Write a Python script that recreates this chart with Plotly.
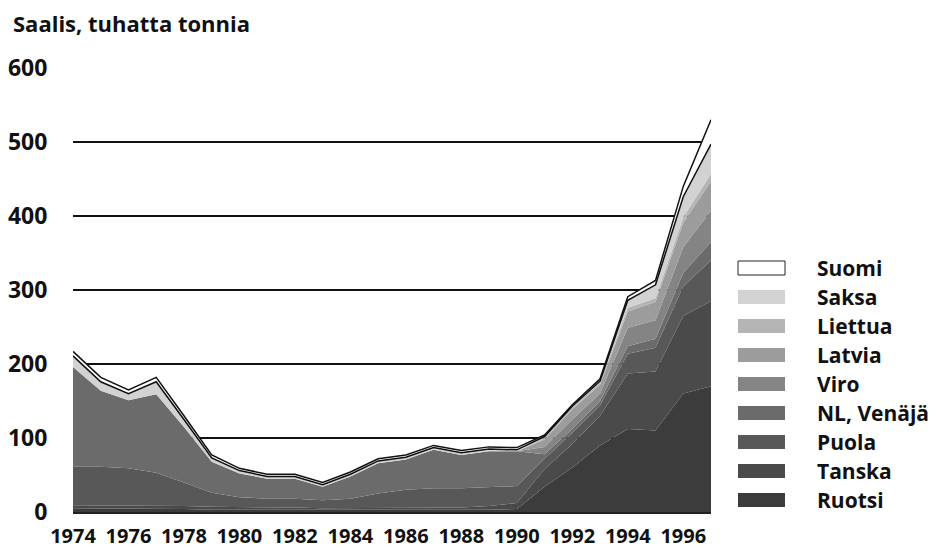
import plotly.graph_objects as go

years = list(range(1974, 1998))

# Catch by country, thousand tonnes (stacked bottom -> top)
ruotsi = [5, 5, 5, 5, 4, 3, 3, 3, 3, 2, 2, 2, 2, 2, 2, 3, 4, 34, 60, 90, 112, 110, 160, 170]
tanska = [4, 4, 4, 4, 4, 4, 4, 3, 3, 3, 3, 3, 3, 3, 4, 5, 8, 24, 32, 40, 75, 80, 105, 115]
puola = [52, 52, 50, 44, 32, 19, 13, 12, 12, 11, 13, 20, 25, 27, 26, 26, 23, 14, 15, 14, 27, 32, 40, 55]
nl_venaja = [135, 103, 92, 106, 75, 42, 32, 27, 27, 18, 30, 41, 41, 52, 45, 48, 47, 6, 5, 6, 10, 12, 18, 25]
viro = [0, 0, 0, 0, 0, 0, 0, 0, 0, 0, 0, 0, 0, 0, 0, 0, 0, 10, 13, 10, 25, 25, 35, 42]
latvia = [0, 0, 0, 0, 0, 0, 0, 0, 0, 0, 0, 0, 0, 0, 0, 0, 0, 10, 14, 12, 22, 25, 33, 40]
liettua = [0, 0, 0, 0, 0, 0, 0, 0, 0, 0, 0, 0, 0, 0, 0, 0, 0, 2, 2, 3, 5, 5, 7, 10]
saksa = [15, 12, 9, 17, 10, 5, 4, 3, 3, 3, 3, 3, 3, 3, 3, 3, 2, 2, 2, 2, 10, 18, 28, 40]
suomi = [6, 6, 5, 6, 5, 4, 3, 3, 3, 3, 3, 3, 3, 3, 3, 3, 3, 2, 2, 3, 5, 6, 14, 33]

series_names = ["Ruotsi", "Tanska", "Puola", "NL, Venäjä", "Viro", "Latvia", "Liettua", "Saksa", "Suomi"]
series_values = [ruotsi, tanska, puola, nl_venaja, viro, latvia, liettua, saksa, suomi]
series_colors = ["#3c3c3c", "#4a4a4a", "#585858", "#6b6b6b", "#848484", "#9c9c9c", "#b4b4b4", "#d2d2d2", "#ffffff"]
outlined = {"Saksa", "Suomi"}

y_ticks = [0, 100, 200, 300, 400, 500, 600]
x_ticks = list(range(1974, 1997, 2))

FONT = "Open Sans"

fig = go.Figure()
for name, vals, col in zip(series_names, series_values, series_colors):
    fig.add_trace(go.Scatter(
        x=years, y=vals, name=name, mode="lines", stackgroup="one",
        fillcolor=col,
        line=dict(color="#111111" if name in outlined else col,
                  width=1.5 if name in outlined else 0),
        showlegend=False,
    ))

# The page body has an 8px margin; work in screen pixels and compensate.
OFF = 8
FW, FH = 939 - OFF, 548 - OFF
PL, PR, PT, PB = 73 - OFF, 711 - OFF, 68 - OFF, 512 - OFF
W, H = PR - PL, PB - PT
def px(xs):
    return (xs - OFF - PL) / W
def py(ys):
    return (PB - (ys - OFF)) / H

shapes = []
annotations = []
legend_order = list(reversed(list(zip(series_names, series_colors))))
for i, (name, col) in enumerate(legend_order):
    yc = 268 + i * 29
    shapes.append(dict(
        type="rect", xref="paper", yref="paper",
        x0=px(738), x1=px(785), y0=py(yc + 7), y1=py(yc - 7),
        fillcolor=col,
        line=dict(color="#222222" if name == "Suomi" else col, width=1 if name == "Suomi" else 0),
    ))
    annotations.append(dict(
        xref="paper", yref="paper", x=px(815), y=py(yc),
        xanchor="left", yanchor="middle", showarrow=False,
        text=name, font=dict(family=FONT, size=21, color="#111111", weight="bold"),
    ))

annotations.append(dict(
    xref="paper", yref="paper", x=px(11), y=py(23),
    xanchor="left", yanchor="middle", showarrow=False,
    text="Saalis, tuhatta tonnia",
    font=dict(family=FONT, size=22, color="#111111", weight="bold"),
))

fig.update_layout(
    width=FW, height=FH,
    margin=dict(l=PL, r=FW - PR, t=PT, b=FH - PB, pad=0),
    paper_bgcolor="white", plot_bgcolor="white",
    shapes=shapes, annotations=annotations,
    showlegend=False,
    font=dict(family=FONT, size=22, color="#111111", weight="bold"),
)
fig.update_xaxes(
    range=[1974, 1997], tickvals=x_ticks, ticktext=[str(v) for v in x_ticks],
    showgrid=False, zeroline=False, automargin=False,
    showline=True, linecolor="#222222", linewidth=2,
    ticks="outside", ticklen=5, tickcolor="rgba(0,0,0,0)",
    tickfont=dict(family=FONT, size=20, color="#111111", weight="bold"),
)
fig.update_yaxes(
    range=[0, 600], tickvals=y_ticks, ticktext=[str(v) for v in y_ticks],
    showgrid=True, gridcolor="#111111", gridwidth=1.5,
    zeroline=False, showline=False, automargin=False,
    ticks="outside", ticklen=20, tickcolor="rgba(0,0,0,0)",
    tickfont=dict(family=FONT, size=23, color="#111111", weight="bold"),
)

fig.write_html("out.html")
